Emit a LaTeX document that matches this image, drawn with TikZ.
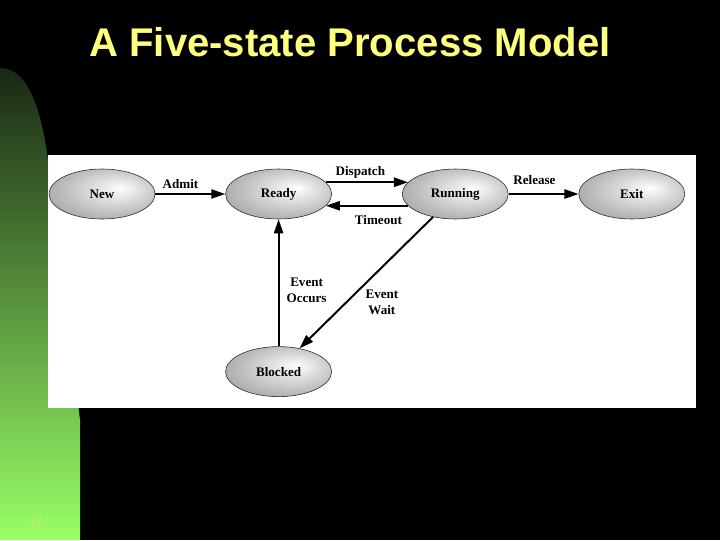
\documentclass[tikz,border=0pt]{standalone}
\usepackage{fontspec}
\setmainfont{Liberation Serif}
\newfontfamily\slidefont{Liberation Sans}
\usetikzlibrary{shapes.geometric, arrows.meta, positioning, calc}
\definecolor{titleyellow}{RGB}{255, 255, 128}
\definecolor{stripdark}{RGB}{25, 40, 20}
\definecolor{stripmid}{RGB}{85, 145, 60}
\definecolor{striplight}{RGB}{153, 255, 102}
\definecolor{pagenum}{RGB}{200, 240, 90}
\pgfdeclareradialshading{stateball}{\pgfpoint{9bp}{6bp}}{color(0bp)=(white); color(4bp)=(white!95!black); color(25bp)=(black!28); color(50bp)=(black!52)}

\begin{document}
\begin{tikzpicture}[x=0.025cm, y=-0.025cm,
  node distance=1.75cm,
  state/.style={ellipse, draw=black!85, thin, shade, shading=stateball, minimum width=2.65cm, minimum height=1.25cm, inner sep=0pt, font=\bfseries\fontsize{9.3}{11}\selectfont},
  trans/.style={-{Triangle[length=10pt, width=6.5pt]}, line width=1.4pt},
  lbl/.style={font=\bfseries\fontsize{9.3}{11}\selectfont, align=center, inner sep=1pt}]
  % slide background
  \useasboundingbox (0,0) rectangle (720,540);
  \fill[black] (0,0) rectangle (720,540);
  \shade[top color=stripdark, middle color=stripmid, bottom color=striplight]
    (0,68) .. controls (25,68) and (40,100) .. (48,160) -- (80,420) -- (80,540) -- (0,540) -- cycle;
  \node[text=titleyellow, font=\slidefont\bfseries\fontsize{28.5}{32}\selectfont] (title) at (350,42) {A Five-state Process Model};
  \node[text=pagenum, font=\slidefont\fontsize{9}{10}\selectfont] (page) at (36,522) {17};
  \fill[white] (48,155) rectangle (696,408);

  % states
  \node[state] (new) at (102,194) {New};
  \node[state, right=of new] (ready) {Ready};
  \node[state, right=of ready] (running) {Running};
  \node[state, right=of running] (exit) {Exit};
  \node[state, below=3.175cm of ready] (blocked) {Blocked};

  % transitions
  \draw[trans] (new) -- node[lbl, above=2pt, pos=0.36] {Admit} (ready);
  \draw[trans] (ready.14) -- node[lbl, above=1pt, pos=0.42] {Dispatch} (running.166);
  \draw[trans] (running.-166) -- node[lbl, below=5pt, pos=0.36] {Timeout} (ready.-14);
  \draw[trans] (running) -- node[lbl, above=5pt, pos=0.37] {Release} (exit);
  \draw[trans] (blocked) -- node[lbl, right=4pt, pos=0.44] {Event\\Occurs} (ready);
  \draw[trans] (running.226) -- node[lbl, right=12pt, pos=0.65] {Event\\Wait} (blocked.48);
\end{tikzpicture}
\end{document}
